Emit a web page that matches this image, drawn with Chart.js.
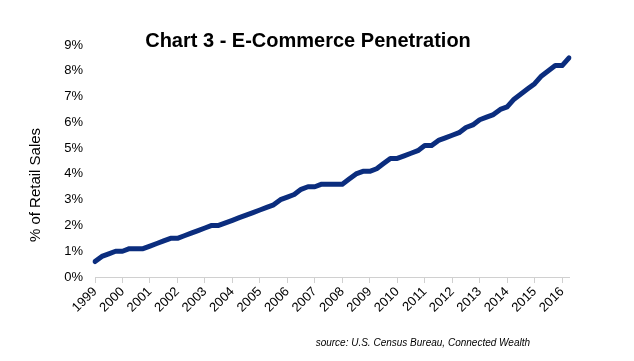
<!DOCTYPE html>
<html>
<head>
<meta charset="utf-8">
<script src="https://cdn.jsdelivr.net/npm/chart.js@4.4.1/dist/chart.umd.min.js"></script>
<style>
  html, body { margin: 0; padding: 0; background: #fff; }
  #wrap { width: 634px; height: 361px; position: relative; }
</style>
</head>
<body>
<div id="wrap"><canvas id="chart-3"></canvas></div>
<script>
// year labels shown on the x axis (one every 4 quarters, from 1999 Q4)
const years = ['1999', '2000', '2001', '2002', '2003', '2004', '2005', '2006', '2007',
  '2008', '2009', '2010', '2011', '2012', '2013', '2014', '2015', '2016'];

// e-commerce share of retail sales, % (quarterly, 1999 Q4 .. 2017 Q1)
const penetration = [
  0.6, 0.8, 0.9, 1.0, 1.0, 1.1, 1.1, 1.1, 1.2, 1.3, 1.4, 1.5, 1.5,
  1.6, 1.7, 1.8, 1.9, 2.0, 2.0, 2.1, 2.2, 2.3, 2.4, 2.5, 2.6,
  2.7, 2.8, 3.0, 3.1, 3.2, 3.4, 3.5, 3.5, 3.6, 3.6, 3.6, 3.6,
  3.8, 4.0, 4.1, 4.1, 4.2, 4.4, 4.6, 4.6, 4.7, 4.8, 4.9, 5.1,
  5.1, 5.3, 5.4, 5.5, 5.6, 5.8, 5.9, 6.1, 6.2, 6.3, 6.5, 6.6,
  6.9, 7.1, 7.3, 7.5, 7.8, 8.0, 8.2, 8.2, 8.5
];

const yTicks = [0, 1, 2, 3, 4, 5, 6, 7, 8, 9];

// one category per quarter, only every 4th one carries a year label
const labels = penetration.map((v, i) => (i % 4 === 0 && years[i / 4]) ? years[i / 4] : '');

const FONT = '"Liberation Sans", Arial, Helvetica, sans-serif';

// title, y axis title and source note drawn at fixed spots
const textPlugin = {
  id: 'texts',
  afterDraw(chart) {
    const c = chart.ctx;
    c.save();
    c.fillStyle = '#000';
    c.textBaseline = 'middle';
    c.textAlign = 'center';
    c.font = 'bold 20px ' + FONT;
    c.fillText('Chart 3 - E-Commerce Penetration', 308, 41);

    c.save();
    c.translate(36, 185);
    c.rotate(-Math.PI / 2);
    c.font = '15px ' + FONT;
    c.fillText('% of Retail Sales', 0, 0);
    c.restore();

    c.textAlign = 'right';
    c.font = 'italic 10px ' + FONT;
    c.fillText('source: U.S. Census Bureau, Connected Wealth', 530, 343);
    c.restore();
  }
};

const ctx = document.getElementById('chart-3').getContext('2d');
const myChart = new Chart(ctx, {
  type: 'line',
  data: {
    labels: labels,
    datasets: [{
      label: '% of Retail Sales',
      data: penetration,
      borderColor: '#0b2d7e',
      borderWidth: 5,
      borderCapStyle: 'round',
      borderJoinStyle: 'round',
      pointRadius: 0,
      tension: 0,
      fill: false
    }]
  },
  options: {
    responsive: true,
    maintainAspectRatio: false,
    animation: false,
    layout: { padding: { left: 20, right: 65, top: 45, bottom: 0 } },
    plugins: {
      legend: { display: false },
      tooltip: { enabled: false }
    },
    scales: {
      x: {
        type: 'category',
        offset: false,
        afterFit: (scale) => { scale.height = 84; },
        grid: { drawOnChartArea: false, drawTicks: true, tickLength: 6, color: '#d0d0d0' },
        border: { color: '#d0d0d0', width: 1 },
        ticks: {
          autoSkip: false,
          maxRotation: 45,
          minRotation: 45,
          padding: 1,
          color: '#000',
          font: { family: FONT, size: 13 },
          callback: function (value) {
            const l = this.getLabelForValue(value);
            return l === '' ? null : l;
          }
        }
      },
      y: {
        min: yTicks[0],
        max: yTicks[yTicks.length - 1],
        afterFit: (scale) => { scale.width = 75; },
        afterBuildTicks: (scale) => { scale.ticks = yTicks.map(v => ({ value: v })); },
        grid: { display: false, drawTicks: false },
        border: { display: false },
        ticks: {
          padding: 12,
          color: '#000',
          font: { family: FONT, size: 13 },
          callback: (v) => v + '%'
        }
      }
    }
  },
  plugins: [textPlugin]
});
</script>
</body>
</html>
